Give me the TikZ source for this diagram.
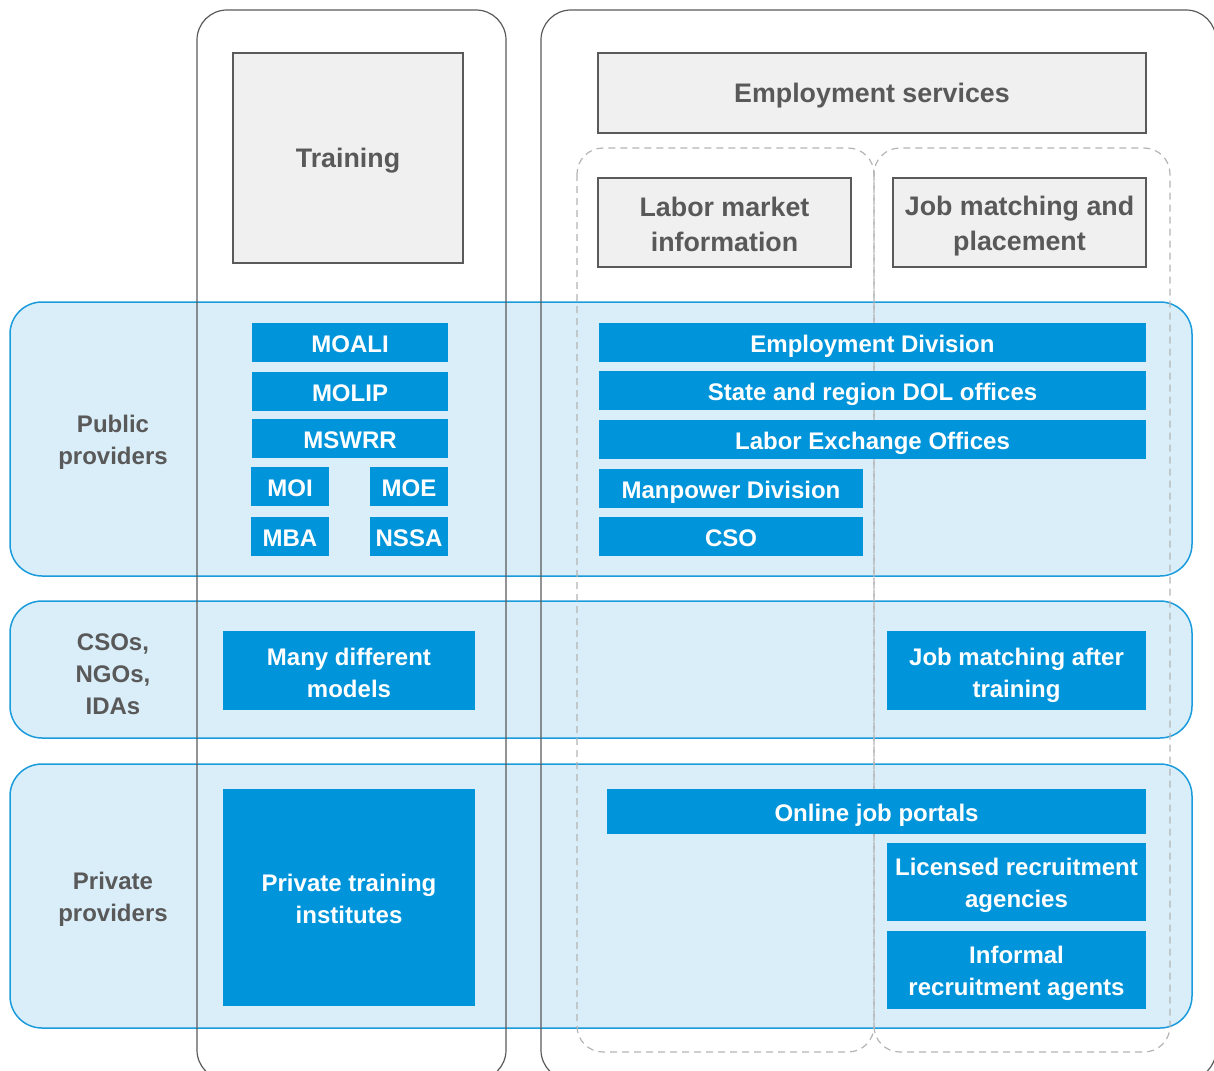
\documentclass[tikz,border=0pt]{standalone}
\usepackage{fontspec}
\setmainfont{Liberation Sans}
\definecolor{bandfill}{HTML}{D9EEF9}
\definecolor{bandline}{HTML}{1A9BDC}
\definecolor{boxblue}{HTML}{0095DA}
\definecolor{darkline}{HTML}{5A5A5A}
\definecolor{headfill}{HTML}{F0F0F0}
\definecolor{dashgray}{HTML}{B4B4B4}
\definecolor{labelgray}{HTML}{595959}
% box from corner (x1,y1) to (x2,y2) with its caption on top:
% \bx{box style}{text style}{x1}{y1}{x2}{y2}{name}{text}
\newcommand\bx[8]{%
  \node[#1, minimum width={(#5-#3)*0.5pt}, minimum height={(#6-#4)*0.5pt}]
    (#7) at ({(#3+#5)/2},{(#4+#6)/2}) {};
  \node[#2] (#7-text) at (#7.center) {#8};}
\begin{document}
\begin{tikzpicture}[x=0.5pt, y=-0.5pt,
  every node/.style={font=\fontsize{12}{16}\selectfont\bfseries, inner sep=0pt, outer sep=0pt, align=center},
  band/.style={fill=bandfill, draw=bandline, line width=0.75pt, rounded corners=16pt},
  column/.style={draw=darkline, line width=0.6pt, rounded corners=15pt},
  group/.style={draw=dashgray, line width=0.6pt, dash pattern=on 3.5pt off 2.5pt, rounded corners=13pt},
  headbox/.style={fill=headfill, draw=darkline, line width=1.3pt},
  headtext/.style={text=labelgray, font=\fontsize{13.4}{17.5}\selectfont\bfseries},
  unit/.style={fill=boxblue},
  unittext/.style={text=white},
  oneline/.style={text height=8.6pt, text depth=0pt, yshift=-0.6pt},
  rowlabel/.style={text=labelgray}]
\useasboundingbox (0,0) rectangle (1214,1070);
\clip (0,0) rectangle (1214,1070);

% provider bands
\draw[band] (10,302) rectangle (1192,576);
\draw[band] (10,601) rectangle (1192,738);
\draw[band] (10,764) rectangle (1192,1028);

% service columns
\draw[column] (197,10) rectangle (506,1080);
\draw[column] (541,10) rectangle (1216,1080);

% sub-groups of employment services
\draw[group] (577,148) rectangle (874,1052);
\draw[group] (874,148) rectangle (1170,1052);

% column headers
\bx{headbox}{headtext,oneline}{233}{53}{463}{263}{training}{Training}
\bx{headbox}{headtext,oneline}{598}{53}{1146}{133}{empserv}{Employment services}
\bx{headbox}{headtext,yshift=-0.8pt}{598}{178}{851}{267}{lmi}{Labor market\\information}
\bx{headbox}{headtext,yshift=-1.8pt}{893}{178}{1146}{267}{jobmatch}{Job matching and\\placement}

% row labels
\node[rowlabel] (public) at (113,442) {Public\\providers};
\node[rowlabel] (csos) at (113,674) {CSOs,\\NGOs,\\IDAs};
\node[rowlabel] (private) at (113,899) {Private\\providers};

% public providers
\bx{unit}{unittext,oneline}{252}{323}{448}{362}{moali}{MOALI}
\bx{unit}{unittext,oneline}{252}{372}{448}{411}{molip}{MOLIP}
\bx{unit}{unittext,oneline}{252}{419}{448}{458}{mswrr}{MSWRR}
\bx{unit}{unittext,oneline}{251}{467}{329}{506}{moi}{MOI}
\bx{unit}{unittext,oneline}{370}{467}{448}{506}{moe}{MOE}
\bx{unit}{unittext,oneline}{251}{517}{329}{556}{mba}{MBA}
\bx{unit}{unittext,oneline}{370}{517}{448}{556}{nssa}{NSSA}
\bx{unit}{unittext,oneline}{599}{323}{1146}{362}{empdiv}{Employment Division}
\bx{unit}{unittext,oneline}{599}{371}{1146}{410}{dol}{State and region DOL offices}
\bx{unit}{unittext,oneline}{599}{420}{1146}{459}{leo}{Labor Exchange Offices}
\bx{unit}{unittext,oneline}{599}{469}{863}{508}{manpower}{Manpower Division}
\bx{unit}{unittext,oneline}{599}{517}{863}{556}{cso}{CSO}

% CSOs, NGOs, IDAs
\bx{unit}{unittext,yshift=-1pt}{223}{631}{475}{710}{models}{Many different\\models}
\bx{unit}{unittext,yshift=-2.2pt}{887}{631}{1146}{710}{aftertrain}{Job matching after\\training}

% private providers
\bx{unit}{unittext,yshift=-0.5pt}{223}{789}{475}{1006}{pti}{Private training\\institutes}
\bx{unit}{unittext,oneline}{607}{789}{1146}{834}{portals}{Online job portals}
\bx{unit}{unittext,yshift=-1.8pt}{887}{843}{1146}{921}{licensed}{Licensed recruitment\\agencies}
\bx{unit}{unittext,yshift=-1.8pt}{887}{931}{1146}{1009}{informal}{Informal\\recruitment agents}
\end{tikzpicture}
\end{document}
